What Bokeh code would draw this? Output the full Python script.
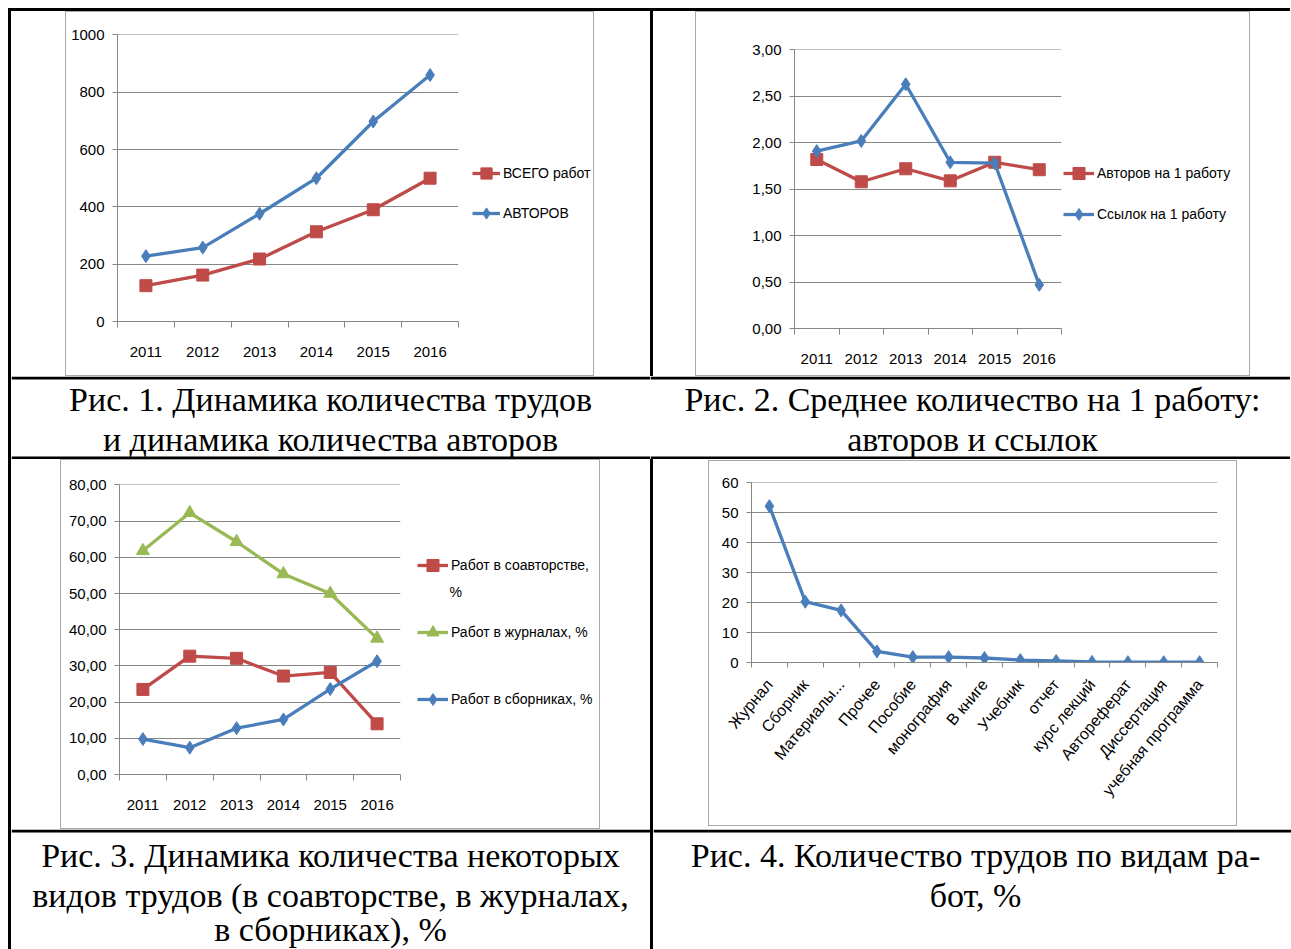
import math
from bokeh.plotting import figure
from bokeh.layouts import row, column
from bokeh.models import (Spacer, Range1d, FixedTicker, CustomJSTickFormatter,
                          Legend, LegendItem, Label)
from bokeh.embed import file_html
from bokeh.resources import INLINE

# ---------------- data ----------------
years = ["2011", "2012", "2013", "2014", "2015", "2016"]

# Fig. 1
total_works = [125, 162, 218, 313, 390, 500]
authors = [228, 258, 376, 500, 698, 860]
y1_ticks = [0, 200, 400, 600, 800, 1000]

# Fig. 2
authors_per_work = [1.82, 1.58, 1.72, 1.59, 1.79, 1.71]
refs_per_work = [1.91, 2.02, 2.63, 1.79, 1.78, 0.47]
y2_ticks = [0, 0.5, 1.0, 1.5, 2.0, 2.5, 3.0]

# Fig. 3
coauth_pct = [23.5, 32.7, 32.1, 27.2, 28.2, 14.0]
journal_pct = [61.8, 72.3, 64.3, 55.4, 50.0, 37.6]
collection_pct = [9.8, 7.4, 12.8, 15.2, 23.6, 31.3]
y3_ticks = [0, 10, 20, 30, 40, 50, 60, 70, 80]

# Fig. 4
work_types = ["Журнал", "Сборник", "Материалы...", "Прочее", "Пособие", "монография",
              "В книге", "Учебник", "отчет", "курс лекций", "Автореферат",
              "Диссертация", "учебная программа"]
work_type_pct = [52.2, 20.3, 17.4, 3.7, 1.8, 1.8, 1.5, 0.8, 0.5, 0.2, 0.1, 0.1, 0.1]
y4_ticks = [0, 10, 20, 30, 40, 50, 60]

captions1 = ["Рис. 1. Динамика количества трудов", "и динамика количества авторов"]
captions2 = ["Рис. 2. Среднее количество на 1 работу:", "авторов и ссылок"]
captions3 = ["Рис. 3. Динамика количества некоторых",
             "видов трудов (в соавторстве, в журналах,", "в сборниках), %"]
captions4 = ["Рис. 4. Количество трудов по видам ра-", "бот, %"]

# ---------------- style ----------------
RED = "#BE4B48"
BLUE = "#4A7EBB"
GREEN = "#98B954"
GRID = "#868686"
FONT = "Liberation Sans"
SERIF = "Liberation Serif"
FS = "15px"
LFS = "14px"
LW = 3.3


def chart(w, h, mbl, mbr, mbt, mbb, labels, y_hi, y_ticks, fmt_code):
    n = len(labels)
    p = figure(width=w, height=h, x_range=Range1d(0, n), y_range=Range1d(0, y_hi * 1.0015),
               output_backend="svg", toolbar_location=None, title=None,
               min_border_left=mbl, min_border_right=mbr,
               min_border_top=mbt, min_border_bottom=mbb)
    p.outline_line_color = None
    p.background_fill_color = "white"
    p.border_fill_color = "white"
    p.xgrid.visible = False
    xt = FixedTicker(ticks=[i + 0.5 for i in range(n)], minor_ticks=list(range(n + 1)))
    xa = p.xaxis[0]
    xa.ticker = xt
    xa.formatter = CustomJSTickFormatter(args=dict(labels=labels),
                                         code="return labels[Math.floor(tick)];")
    xa.axis_line_color = GRID
    xa.major_tick_line_color = None
    xa.major_tick_out = 0
    xa.major_tick_in = 0
    xa.minor_tick_line_color = GRID
    xa.minor_tick_out = 6
    xa.minor_tick_in = 0
    xa.major_label_standoff = 19
    xa.major_label_text_font = FONT
    xa.major_label_text_font_size = FS
    xa.major_label_text_color = "black"
    yt = FixedTicker(ticks=y_ticks, minor_ticks=[])
    ya = p.yaxis[0]
    ya.ticker = yt
    p.ygrid.ticker = yt
    ya.formatter = CustomJSTickFormatter(code=fmt_code)
    ya.axis_line_color = GRID
    ya.major_tick_line_color = GRID
    ya.major_tick_out = 5
    ya.major_tick_in = 0
    ya.minor_tick_line_color = None
    ya.major_label_standoff = 8
    ya.major_label_text_font = FONT
    ya.major_label_text_font_size = FS
    ya.major_label_text_color = "black"
    p.ygrid.grid_line_color = GRID
    p.ygrid.grid_line_width = 1
    return p


def series(p, values, color, marker, size):
    xs = [i + 0.5 for i in range(len(values))]
    lr = p.line(xs, values, line_color=color, line_width=LW)
    sr = p.scatter(xs, values, marker=marker, size=size, fill_color=color, line_color=color)
    return [lr, sr]


def legend_fig(w, h, entries, loc, glyph_w, spacing):
    # a separate plot beside the chart that only shows the legend
    # (its ranges keep the series out of view; only the legend swatches show)
    p = figure(width=w, height=h, x_range=Range1d(-20, -19), y_range=Range1d(-20, -19),
               output_backend="svg", toolbar_location=None, title=None,
               x_axis_location=None, y_axis_location=None, min_border=0)
    p.grid.visible = False
    p.outline_line_color = None
    p.background_fill_color = "white"
    p.border_fill_color = "white"
    items = []
    for label, values, color, marker, size in entries:
        items.append(LegendItem(label=label, renderers=series(p, values, color, marker, size)))
    lg = Legend(items=items, location=loc, orientation="vertical",
                label_text_font=FONT, label_text_font_size=LFS, label_text_color="black",
                glyph_width=glyph_w, glyph_height=30, label_height=30, label_standoff=3,
                spacing=spacing, padding=0, margin=0, border_line_color=None,
                background_fill_alpha=0)
    p.add_layout(lg)
    return p


INT_FMT = "return tick.toFixed(0);"
DEC_FMT = "return tick.toFixed(2).replace('.', ',');"

# ---- Fig 1 ----
p1 = chart(394, 363, 51, 2, 22, 54, years, 1000, y1_ticks, INT_FMT)
series(p1, total_works, RED, "square", 12)
series(p1, authors, BLUE, "diamond", 13)
l1 = legend_fig(133, 363, [("ВСЕГО работ", total_works, RED, "square", 12),
                           ("АВТОРОВ", authors, BLUE, "diamond", 13)], (12, 93), 28, 10)

# ---- Fig 2 ----
p2 = chart(367, 363, 98, 2, 37, 47, years, 3.0, y2_ticks, DEC_FMT)
series(p2, authors_per_work, RED, "square", 12)
series(p2, refs_per_work, BLUE, "diamond", 13)
l2 = legend_fig(186, 363, [("Авторов на 1 работу", authors_per_work, RED, "square", 12),
                           ("Ссылок на 1 работу", refs_per_work, BLUE, "diamond", 13)],
                (0, 99), 31, 11)

# ---- Fig 3 ----
p3 = chart(341, 368, 58, 2, 24, 54, years, 80, y3_ticks, DEC_FMT)
series(p3, coauth_pct, RED, "square", 12)
series(p3, journal_pct, GREEN, "triangle", 13)
series(p3, collection_pct, BLUE, "diamond", 13)
l3 = legend_fig(197, 368, [("Работ в соавторстве,", coauth_pct, RED, "square", 12),
                           ("Работ в журналах, %", journal_pct, GREEN, "triangle", 13),
                           ("Работ в сборниках, %", collection_pct, BLUE, "diamond", 13)],
                (15, 60), 31, 37)
l3.add_layout(Label(x=47, y=183, x_units="screen", y_units="screen", text="%",
                    text_font=FONT, text_font_size=LFS, text_baseline="middle",
                    text_color="black"))

# ---- Fig 4 ----
p4 = chart(527, 364, 42, 19, 21, 163, work_types, 60, y4_ticks, INT_FMT)
series(p4, work_type_pct, BLUE, "diamond", 13)
p4.xaxis[0].major_label_orientation = math.radians(50)
p4.xaxis[0].major_label_text_font_size = "16px"
p4.xaxis[0].major_label_standoff = 14
p4.xaxis[0].minor_tick_out = 5


# ---------------- captions (cells incl. their horizontal rules) ----------------
def caption(x0, x1, y0, y1, lines, xc, ys, top_rule, bottom_rule):
    p = figure(width=x1 - x0, height=y1 - y0, x_range=Range1d(x0, x1), y_range=Range1d(y1, y0),
               output_backend="svg", toolbar_location=None, title=None,
               x_axis_location=None, y_axis_location=None, min_border=0)
    p.grid.visible = False
    p.outline_line_color = None
    p.background_fill_color = "white"
    p.border_fill_color = "white"
    if top_rule:
        p.quad(left=x0, right=x1, top=y0, bottom=y0 + 3, fill_color="black", line_color=None)
    if bottom_rule:
        p.quad(left=x0, right=x1, top=y1 - 3, bottom=y1, fill_color="black", line_color=None)
    for t, y in zip(lines, ys):
        p.add_layout(Label(x=xc, y=y, text=t, text_align="center", text_baseline="middle",
                           text_font=SERIF, text_font_size="34px", text_color="black"))
    return p


c1 = caption(11, 650, 376, 459, captions1, 330, [399, 439], True, True)
c2 = caption(650, 1290, 376, 459, captions2, 972, [399, 439], True, True)
c3 = caption(11, 650, 829, 949, captions3, 330, [855, 895, 929], True, False)
c4 = caption(650, 1290, 829, 949, captions4, 972, [855, 895], True, False)


# ---------------- table layout ----------------
def blk(w, h, color="black"):
    return Spacer(width=w, height=h, styles={"background-color": color})


def gap(w, h):
    return Spacer(width=w, height=h)


def boxed(content, w, h):
    g = "#a9a9a9"
    return column(blk(w, 1, g), row(blk(1, h - 2, g), content, blk(1, h - 2, g)), blk(w, 1, g))


W = 1282
rowA = row(blk(3, 365), gap(54, 365), boxed(row(p1, l1), 529, 365), gap(56, 365),
           blk(3, 365), gap(42, 365), boxed(row(p2, l2), 555, 365), gap(40, 365))
rowB = row(blk(3, 83), c1, c2)
rowC = row(blk(3, 370), gap(49, 370), boxed(row(p3, l3), 540, 370), gap(50, 370),
           blk(3, 370), gap(55, 370),
           column(gap(529, 1), boxed(p4, 529, 366), gap(529, 3)), gap(53, 370))
rowD = row(blk(3, 120), c3, blk(3, 120), c4)

table = column(blk(W, 3), rowA, rowB, rowC, rowD)
layout = column(gap(1290, 8), row(gap(8, 941), table))

open("out.html", "w").write(file_html(layout, INLINE, title="Рисунки"))
